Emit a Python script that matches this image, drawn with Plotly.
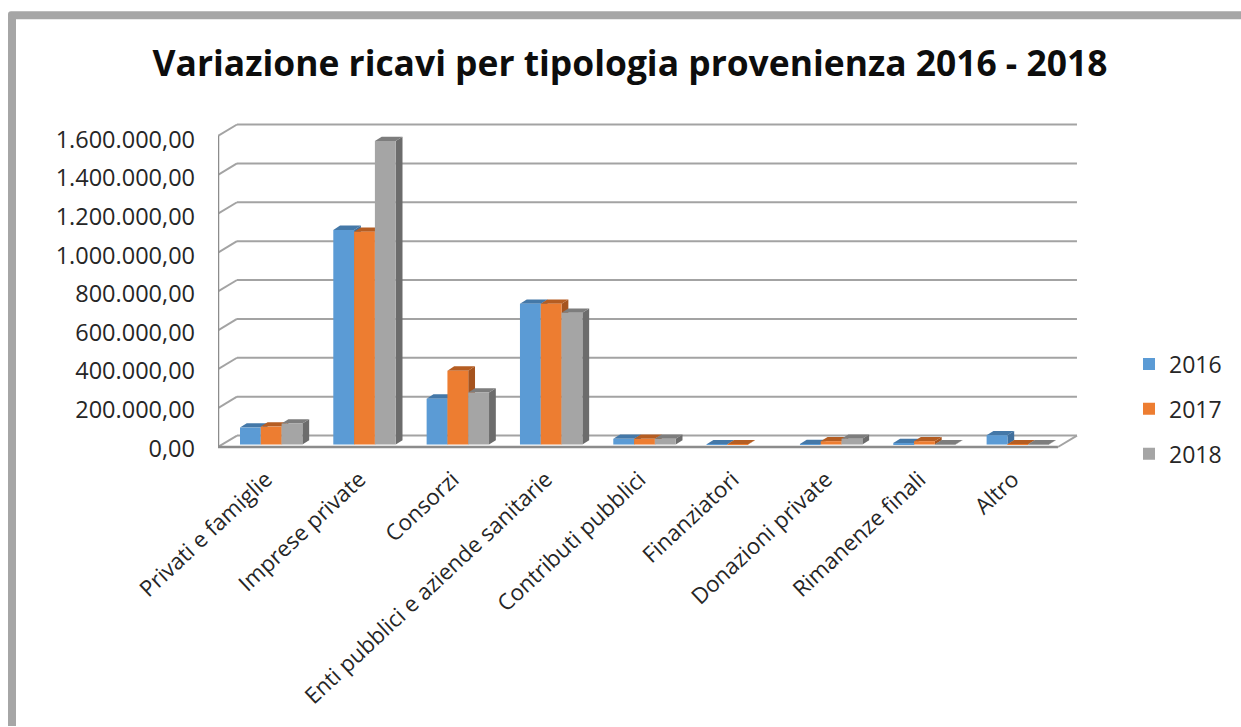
import plotly.graph_objects as go

categories = ["Privati e famiglie", "Imprese private", "Consorzi",
              "Enti pubblici e aziende sanitarie", "Contributi pubblici",
              "Finanziatori", "Donazioni private", "Rimanenze finali", "Altro"]
series_names = ["2016", "2017", "2018"]
values_2016 = [87000, 1104000, 236000, 724000, 29000, 1500, 2000, 8000, 48000]
values_2017 = [92000, 1094000, 380000, 724000, 29000, 1500, 17000, 17000, 1500]
values_2018 = [108000, 1561000, 267000, 678000, 29000, 0, 30000, 1500, 1500]
y_ticks = [0, 200000, 400000, 600000, 800000, 1000000, 1200000, 1400000, 1600000]
y_labels = ["0,00", "200.000,00", "400.000,00", "600.000,00", "800.000,00",
            "1.000.000,00", "1.200.000,00", "1.400.000,00", "1.600.000,00"]
colors = ["#5b9bd5", "#ed7d31", "#a5a5a5"]
top_colors = ["#4478a8", "#b55d22", "#7d7d7d"]
side_colors = ["#3f6f9d", "#a5531e", "#6c6c6c"]

W, H = 1241, 727
L, R, T, B = 218, 1078, 123, 449.5
ZERO_PX = 447.5
PX_Y = 1600000 / 311.5      # value per pixel
PX_X = 1 / 93.33            # category per pixel
x_range = [-0.5, -0.5 + (R - L) * PX_X]
y_range = [-(B - ZERO_PX) * PX_Y, (ZERO_PX - T) * PX_Y]
GROUP_SHIFT = 6.5 * PX_X
LABEL_SHIFT = 1.5 * PX_X
BAR_W = 20.8 * PX_X
BAR_BASE = 2.5 * PX_Y
WALL_DX, WALL_DY = 19 * PX_X, 11.5 * PX_Y
BAR_DX, BAR_DY = 6.8 * PX_X, 4.3 * PX_Y
GAP = 1 - 3 * BAR_W
GRID = "#a3a3a3"
AXIS = "#8c8c8c"


def px(xp):
    return (xp - L) / (R - L)


def py(yp):
    return (B - yp) / (B - T)


shapes = []


def line(x0, y0, x1, y1, color=GRID, width=2):
    shapes.append(dict(type="line", xref="x", yref="y", x0=x0, y0=y0, x1=x1, y1=y1,
                       layer="below", line=dict(color=color, width=width)))


def poly(points, color):
    path = "M " + " L ".join(f"{a},{b}" for a, b in points) + " Z"
    shapes.append(dict(type="path", xref="x", yref="y", path=path, layer="below",
                       fillcolor=color, line=dict(width=0)))


# outer frame of the chart
shapes.append(dict(type="path", xref="paper", yref="paper", layer="below",
                   fillcolor="#a6a6a6", line=dict(width=0),
                   path=(f"M {px(8)},{py(727)} L {px(8)},{py(14)} Q {px(8)},{py(11)} {px(11)},{py(11)} "
                         f"L {px(1241)},{py(11)} L {px(1241)},{py(19)} L {px(16)},{py(19)} L {px(16)},{py(727)} Z")))

x_left, x_front_right = -0.5, 8.5
for v in y_ticks:
    line(x_left + WALL_DX, v + WALL_DY, x_front_right + WALL_DX, v + WALL_DY)
    line(x_left, v, x_left + WALL_DX, v + WALL_DY)
line(x_left, 0, x_front_right, 0, AXIS, 2.5)
line(x_front_right, 0, x_front_right + WALL_DX, WALL_DY, GRID, 2)
line(x_left, 0, x_left, y_ticks[-1], AXIS, 2.5)

all_values = [values_2016, values_2017, values_2018]
for s, vals in enumerate(all_values):
    for i, v in enumerate(vals):
        if v <= 0:
            continue
        x0 = i + GROUP_SHIFT - 1.5 * BAR_W + s * BAR_W
        x1 = x0 + BAR_W
        y0 = BAR_BASE
        y1 = BAR_BASE + v
        poly([(x1, y0), (x1 + BAR_DX, y0 + BAR_DY), (x1 + BAR_DX, y1 + BAR_DY), (x1, y1)], side_colors[s])
        poly([(x0, y1), (x1, y1), (x1 + BAR_DX, y1 + BAR_DY), (x0 + BAR_DX, y1 + BAR_DY)], top_colors[s])

fig = go.Figure()
for s, vals in enumerate(all_values):
    fig.add_trace(go.Bar(name=series_names[s], x=[i + GROUP_SHIFT for i in range(len(categories))],
                         y=vals, base=BAR_BASE, marker=dict(color=colors[s], line=dict(width=0)),
                         legendgroup=series_names[s]))

FONT = "Open Sans"
label_positions = [v - (1.5 + 2 * v / y_ticks[-1]) * PX_Y for v in y_ticks]
fig.update_layout(
    width=W, height=H, autosize=False,
    margin=dict(l=L, r=W - R, t=T, b=H - B, pad=0),
    paper_bgcolor="white", plot_bgcolor="white",
    barmode="group", bargap=GAP, bargroupgap=0,
    font=dict(family=FONT, color="#262626"),
    title=dict(text="<b>Variazione ricavi per tipologia provenienza 2016 - 2018</b>",
               x=630 / W, xanchor="center", y=1 - 64 / H, yanchor="middle",
               font=dict(family=FONT, size=35.4, color="#0d0d0d")),
    legend=dict(xref="container", yref="container", x=1129 / W, y=1 - 409 / H,
                xanchor="left", yanchor="middle", tracegroupgap=12,
                font=dict(family=FONT, size=23, color="#262626"), bgcolor="rgba(0,0,0,0)"),
    xaxis=dict(range=x_range, showgrid=False, zeroline=False, showline=False,
               tickmode="array", tickvals=[i + LABEL_SHIFT for i in range(len(categories))],
               ticktext=categories, tickangle=-43, ticks="", automargin=False,
               ticklabelstandoff=12,
               tickfont=dict(family=FONT, size=22.3, color="#262626")),
    yaxis=dict(range=y_range, showgrid=False, zeroline=False, showline=False,
               tickmode="array", tickvals=label_positions, ticktext=y_labels, ticks="",
               ticklabelstandoff=22, automargin=False,
               tickfont=dict(family=FONT, size=23.5, color="#262626")),
    shapes=shapes,
)
fig.write_html("out.html", config=dict(displayModeBar=False),
               post_script="document.body.style.margin='0';")
